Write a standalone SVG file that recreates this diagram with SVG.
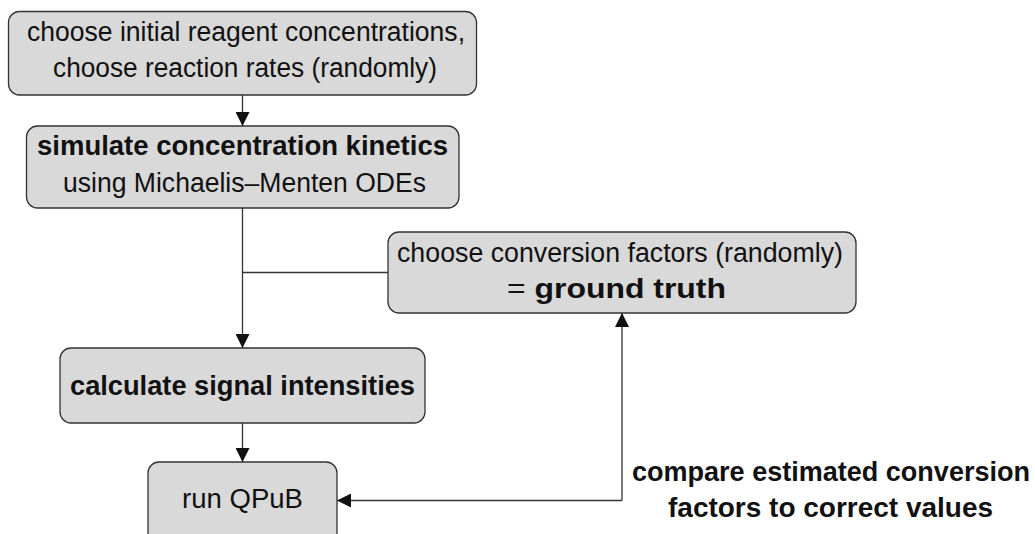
<svg xmlns="http://www.w3.org/2000/svg" width="1035" height="534" viewBox="0 0 1035 534">
<style>
.box{fill:#d9d9d9;stroke:#333;stroke-width:1.3}
.t{font-family:"Liberation Sans",Arial,sans-serif;font-size:27px;fill:#111;text-anchor:middle}
.b{font-weight:bold}
.c{fill:none;stroke:#333;stroke-width:1.3}
</style>
<defs>
<marker id="ah" viewBox="0 0 14 14" refX="14" refY="7" markerWidth="14" markerHeight="14" markerUnits="userSpaceOnUse" orient="auto">
<path d="M0,0 L14,7 L0,14 z" fill="#111"/>
</marker>
</defs>
<rect width="1035" height="534" fill="#fff"/>
<g id="connectors">
<path class="c" d="M242.5,95 V126" marker-end="url(#ah)"/>
<path class="c" d="M242.5,208 V348" marker-end="url(#ah)"/>
<path class="c" d="M388,272.5 H242.5"/>
<path class="c" d="M242.5,423 V462" marker-end="url(#ah)"/>
<path class="c" d="M622,500.5 V313" marker-end="url(#ah)"/>
<path class="c" d="M622,500.5 H337" marker-end="url(#ah)"/>
</g>
<g id="n1">
<rect class="box" x="8.5" y="11.5" width="468" height="83.5" rx="11"/>
<text class="t" x="246" y="41" textLength="438" lengthAdjust="spacingAndGlyphs">choose initial reagent concentrations,</text>
<text class="t" x="245" y="77" textLength="384" lengthAdjust="spacingAndGlyphs">choose reaction rates (randomly)</text>
</g>
<g id="n2">
<rect class="box" x="26.5" y="126" width="432.5" height="82" rx="11"/>
<text class="t b" x="242.5" y="155" textLength="411" lengthAdjust="spacingAndGlyphs">simulate concentration kinetics</text>
<text class="t" x="244.5" y="192" textLength="363" lengthAdjust="spacingAndGlyphs">using Michaelis–Menten ODEs</text>
</g>
<g id="n3">
<rect class="box" x="388" y="232" width="468" height="81" rx="11"/>
<text class="t" x="620" y="262" textLength="446" lengthAdjust="spacingAndGlyphs">choose conversion factors (randomly)</text>
<text class="t" x="616.5" y="298" textLength="219" lengthAdjust="spacingAndGlyphs">= <tspan class="b">ground truth</tspan></text>
</g>
<g id="n4">
<rect class="box" x="60" y="348" width="365" height="75" rx="11"/>
<text class="t b" x="242.5" y="395" textLength="345" lengthAdjust="spacingAndGlyphs">calculate signal intensities</text>
</g>
<g id="n5">
<rect class="box" x="148" y="462" width="189" height="90" rx="11"/>
<text class="t" x="242.5" y="508" textLength="121" lengthAdjust="spacingAndGlyphs">run QPuB</text>
</g>
<g id="label">
<text class="t b" x="831" y="481" textLength="398" lengthAdjust="spacingAndGlyphs">compare estimated conversion</text>
<text class="t b" x="830.5" y="517" textLength="325" lengthAdjust="spacingAndGlyphs">factors to correct values</text>
</g>
</svg>
